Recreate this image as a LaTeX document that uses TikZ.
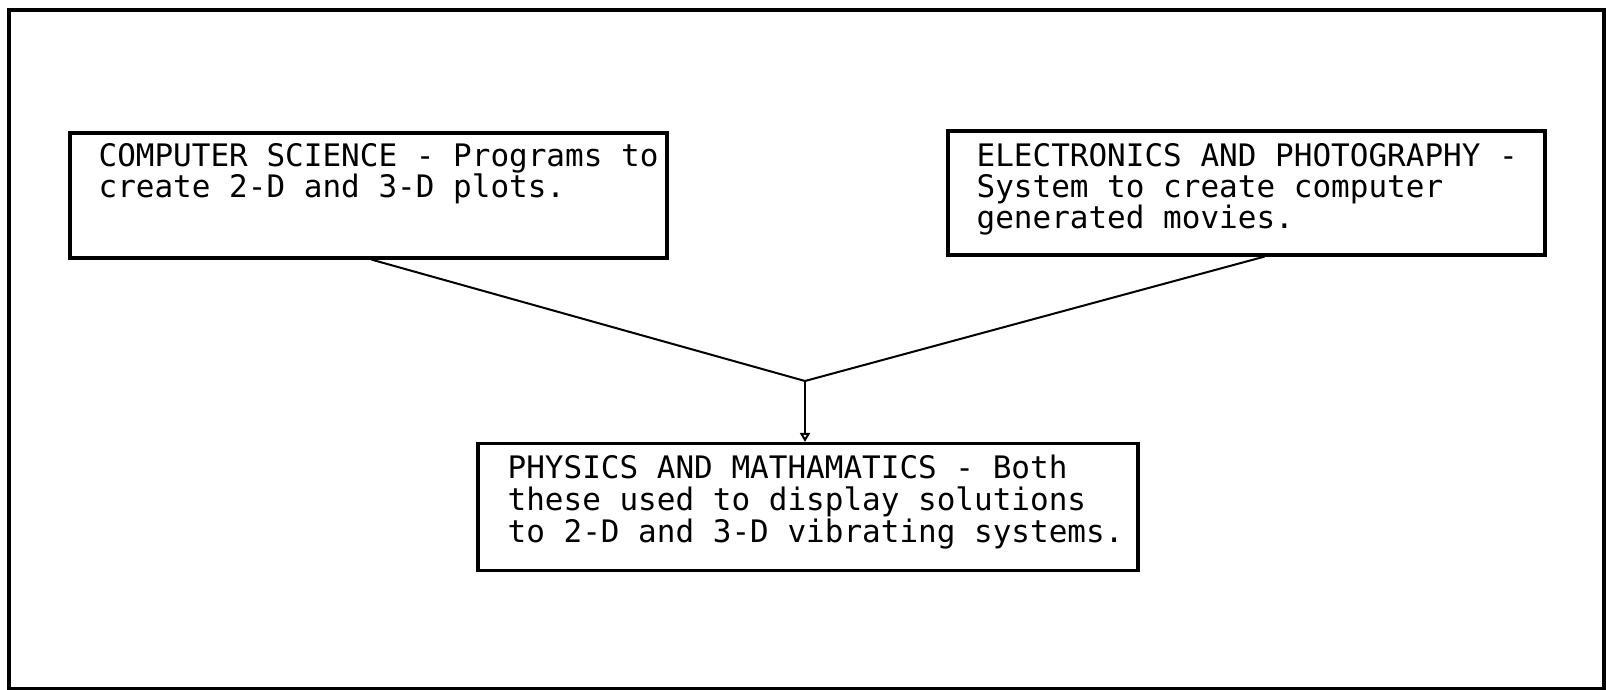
\documentclass[tikz,border=0pt]{standalone}
\usepackage{fontspec}
\setmonofont{DejaVu Sans Mono}
\usetikzlibrary{arrows.meta}

\begin{document}
\begin{tikzpicture}[x=1pt,y=1pt,
  box/.style={draw=black, line width=3.2pt, minimum width=597, minimum height=125, inner sep=0},
  txt/.style={font=\fontsize{31}{31}\selectfont\ttfamily, align=left, anchor=base west, inner sep=0},
  link/.style={black, line width=2pt}]
\useasboundingbox (0,0) rectangle (1606,-690);
\draw[black, line width=3.4pt] (9,-10) rectangle (1604,-689);
\node[box] (cs) at (368.5,-195.5) {};
\node[txt] (cstext) at ([shift={(30,-66)}]cs.north west) {COMPUTER SCIENCE - Programs to\\create 2-D and 3-D plots.};
\node[box, minimum height=124] (ep) at (1246.5,-193) {};
\node[txt] (eptext) at ([shift={(30,-99)}]ep.north west) {ELECTRONICS AND PHOTOGRAPHY -\\System to create computer\\generated movies.};
\node[box, minimum width=660, minimum height=127] (pm) at (808,-507) {};
\node[txt, font=\fontsize{31}{32}\selectfont\ttfamily] (pmtext) at ([shift={(31,-101)}]pm.north west) {PHYSICS AND MATHAMATICS - Both\\these used to display solutions\\to 2-D and 3-D vibrating systems.};
\coordinate (join) at (805,-381);
\draw[link] ([xshift=3]cs.south) -- (join);
\draw[link] ([xshift=18]ep.south) -- (join);
\draw[link, -{Triangle[open, length=9pt, width=10pt]}] (join) -- (join |- pm.north);
\end{tikzpicture}
\end{document}
